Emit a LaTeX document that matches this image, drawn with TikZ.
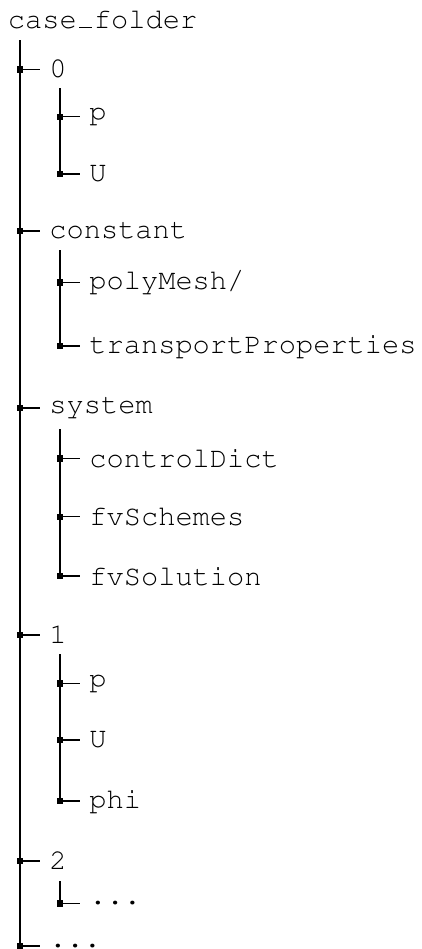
\documentclass[tikz,border=0pt]{standalone}
% Courier (Type 1, OT1 encoding) for all labels of the tree
\newcommand\treefont{\fontencoding{OT1}\fontfamily{pcr}\fontseries{m}\fontshape{n}\fontsize{14.35pt}{17pt}\selectfont}
% low line drawn as a rule sitting on the baseline
\newcommand\lowline{\kern0.08em\rule[0pt]{0.44em}{0.5pt}\kern0.08em}
\tikzset{
  entry/.style={anchor=west, inner xsep=4.5pt, inner ysep=0pt, font=\treefont},
  branch/.style={draw=black, line width=0.65pt},
  knot/.style={rectangle, fill=black, inner sep=0pt, minimum size=3.2pt}
}
\begin{document}
\begin{tikzpicture}[x=0.5pt, y=-0.5pt]
\useasboundingbox (0,0) rectangle (422,949);

% root folder
\node[font=\treefont, anchor=base west, inner sep=0pt] (root) at (7.5,28.3) {case\lowline folder};

% first level
\node[entry] (n0)    at (40,69.3)  {0};
\node[entry] (ncst)  at (40,231)   {constant};
\node[entry] (nsys)  at (40,408)   {system};
\node[entry] (n1)    at (40,635)   {1};
\node[entry] (n2)    at (40,861)   {2};
\node[entry] (nend)  at (40,946)   {...};

% second level
\node[entry] (p0)    at (80,116.7) {p};
\node[entry] (u0)    at (80,174)   {U};
\node[entry] (mesh)  at (80,282.3) {polyMesh/};
\node[entry] (trans) at (80,346)   {transportProperties};
\node[entry] (ctrl)  at (80,458.3) {controlDict};
\node[entry] (schm)  at (80,516.7) {fvSchemes};
\node[entry] (solv)  at (80,576)   {fvSolution};
\node[entry] (p1)    at (80,683.3) {p};
\node[entry] (u1)    at (80,740)   {U};
\node[entry] (phi1)  at (80,801)   {phi};
\node[entry] (dots2) at (80,903.3) {...};

% where each vertical branch line starts
\coordinate (sroot) at (20,40);
\coordinate (s0)    at (60,88);
\coordinate (scst)  at (60,250);
\coordinate (ssys)  at (60,429);
\coordinate (s1)    at (60,654);
\coordinate (s2)    at (60,881);

% each child gets its own elbow from the top of its parent's line
\foreach \src/\dst in {sroot/n0, sroot/ncst, sroot/nsys, sroot/n1, sroot/n2, sroot/nend,
                       s0/p0, s0/u0, scst/mesh, scst/trans,
                       ssys/ctrl, ssys/schm, ssys/solv,
                       s1/p1, s1/u1, s1/phi1, s2/dots2}{
  \draw[branch] (\src) |- (\dst.west);
  \node[knot] at (\src |- \dst.west) {};
}
\end{tikzpicture}
\end{document}
